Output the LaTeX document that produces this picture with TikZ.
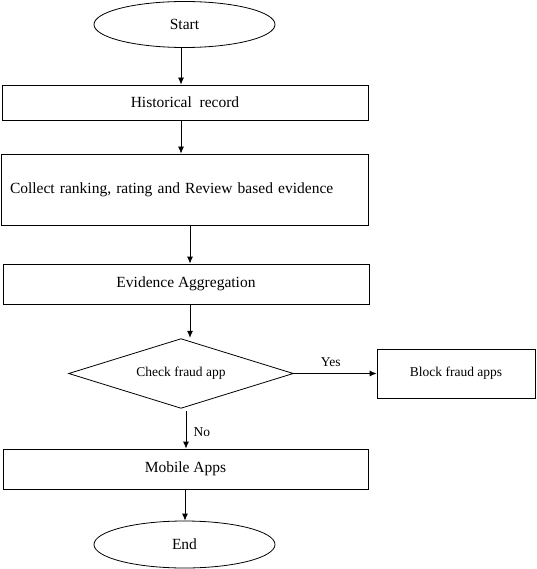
\documentclass[tikz,border=0pt]{standalone}
\usepackage{fontspec}
\setmainfont{Liberation Serif}
\usetikzlibrary{shapes.geometric,arrows.meta,calc}
\begin{document}
\begin{tikzpicture}[x=1pt,y=-1pt,
  box/.style={draw,rectangle,line width=0.8pt,inner sep=0pt,font=\fontsize{15.5}{18}\selectfont},
  term/.style={draw,ellipse,line width=0.8pt,inner sep=0pt,font=\fontsize{15.5}{18}\selectfont},
  small/.style={font=\fontsize{13.5}{16}\selectfont},
  arr/.style={-{Latex[length=7pt,width=6pt]},line width=0.8pt}]
\useasboundingbox (0,0) rectangle (536,569);
\node[term,minimum width=181pt,minimum height=46pt] (start) at (184.5,24.5) {Start};
\node[box,minimum width=366pt,minimum height=35pt] (hist) at (185,102.5) {Historical\ \ record};
\node[box,minimum width=367pt,minimum height=71pt,text width=349pt,inner xsep=9pt,align=left] (coll) at (184.5,189.5) {Collect ranking, rating and Review based evidence};
\node[box,minimum width=366pt,minimum height=40pt] (evid) at (186,284) {Evidence Aggregation};
\node[rectangle,inner sep=0pt,minimum width=224pt,minimum height=69pt,small] (dia) at (181,373.5) {Check fraud app};
\draw[line width=0.8pt] (dia.north) -- (dia.east) -- (dia.south) -- (dia.west) -- cycle;
\node[box,small,minimum width=158pt,minimum height=49pt] (block) at (456,373.5) {Block fraud apps};
\node[box,minimum width=365pt,minimum height=40pt] (mob) at (185.5,469) {Mobile Apps};
\node[term,minimum width=181pt,minimum height=47pt] (end) at (184.5,544.5) {End};
\draw[arr] ([xshift=-3.5pt]start.south) -- ([xshift=-3.5pt]start.south |- hist.north);
\draw[arr] ([xshift=-4pt]hist.south) -- ([xshift=-4pt]hist.south |- coll.north);
\draw[arr] ([xshift=5.5pt]coll.south) -- ([xshift=5.5pt]coll.south |- evid.north);
\draw[arr] ([xshift=4pt]evid.south) -- ([xshift=4pt,yshift=1pt]evid.south |- dia.north);
\draw[arr] (dia.east) -- node[small,above=3pt,pos=0.45] (yes) {Yes} (block.west);
\draw[arr] ([xshift=5pt,yshift=-3pt]dia.south) -- node[small,right=4pt,pos=0.55] (no) {No} ([xshift=5pt]dia.south |- mob.north);
\draw[arr] ([xshift=-0.5pt]mob.south) -- ([xshift=-0.5pt]mob.south |- end.north);
\end{tikzpicture}
\end{document}
